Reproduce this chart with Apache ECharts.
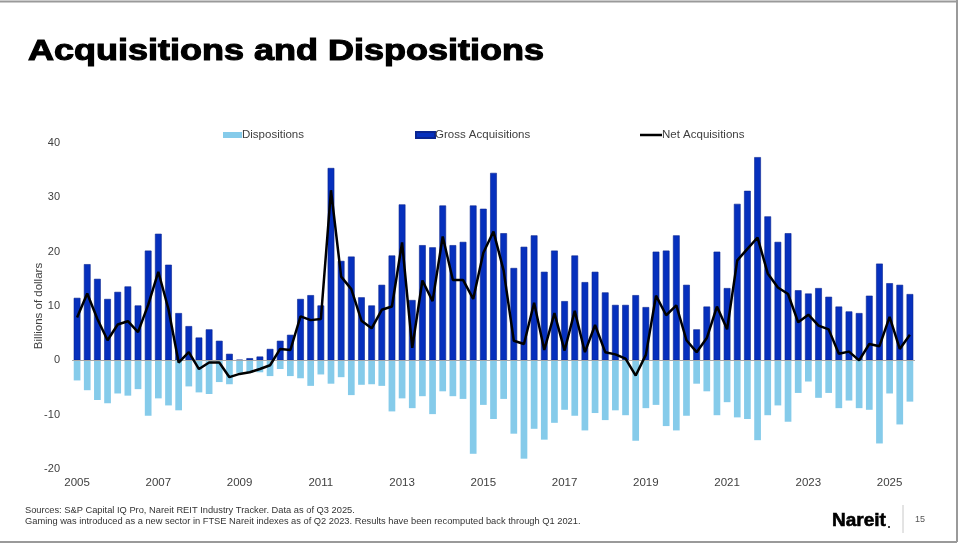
<!DOCTYPE html>
<html>
<head>
<meta charset="utf-8">
<title>Acquisitions and Dispositions</title>
<script src="https://cdn.jsdelivr.net/npm/echarts@6/dist/echarts.min.js"></script>
<style>
  html, body { margin: 0; padding: 0; background: #fff; }
  #chart { width: 960px; height: 544px; }
</style>
</head>
<body>
<div id="chart"></div>
<script>
// quarters 2005 Q1 .. 2025 Q3
var years = [2005, 2006, 2007, 2008, 2009, 2010, 2011, 2012, 2013, 2014, 2015,
             2016, 2017, 2018, 2019, 2020, 2021, 2022, 2023, 2024, 2025];
var quarters = ['Q1', 'Q2', 'Q3', 'Q4'];
var lastQuarters = 3; // data ends Q3 2025

// billions of dollars, one row per year
var grossAcquisitions = [
    11.5, 17.7, 15.0, 11.3,
    12.6, 13.6, 10.1, 20.2,
    23.3, 17.6, 8.7, 6.3,
    4.2, 5.7, 3.6, 1.2,
    0.1, 0.4, 0.7, 2.1,
    3.6, 4.7, 11.3, 12.0,
    10.1, 35.4, 18.3, 19.1,
    11.6, 10.1, 13.9, 19.3,
    28.7, 11.1, 21.2, 20.8,
    28.5, 21.2, 21.8, 28.5,
    27.9, 34.5, 23.4, 17.0,
    20.9, 23.0, 16.3, 20.2,
    10.9, 19.3, 14.4, 16.3,
    12.5, 10.2, 10.2, 12.0,
    9.8, 20.0, 20.2, 23.0,
    13.9, 5.7, 9.9, 20.0,
    13.3, 28.8, 31.2, 37.4,
    26.5, 21.8, 23.4, 12.9,
    12.3, 13.3, 11.7, 9.9,
    9.0, 8.7, 11.9, 17.8,
    14.2, 13.9, 12.2
];
var dispositions = [
    -3.7, -5.5, -7.3, -7.9,
    -6.1, -6.5, -5.3, -10.2,
    -7.0, -8.3, -9.2, -4.8,
    -5.9, -6.2, -4.0, -4.4,
    -2.3, -2.3, -2.2, -2.9,
    -1.6, -2.9, -3.3, -4.7,
    -2.6, -4.3, -3.1, -6.4,
    -4.5, -4.4, -4.7, -9.4,
    -7.0, -8.8, -6.6, -9.9,
    -5.7, -6.6, -7.1, -17.2,
    -8.2, -10.8, -7.1, -13.5,
    -18.1, -12.6, -14.6, -11.5,
    -9.1, -10.2, -12.9, -9.7,
    -11.0, -9.2, -10.1, -14.8,
    -8.8, -8.2, -12.1, -12.9,
    -10.2, -4.3, -5.7, -10.1,
    -7.7, -10.5, -10.8, -14.7,
    -10.1, -8.3, -11.3, -6.0,
    -3.9, -6.9, -6.0, -8.8,
    -7.4, -8.8, -9.1, -15.3,
    -6.1, -11.8, -7.6
];
var netAcquisitions = [
    7.9, 12.3, 7.6, 3.7,
    6.6, 7.2, 5.2, 10.2,
    16.3, 9.4, -0.4, 1.5,
    -1.6, -0.4, -0.4, -3.1,
    -2.5, -2.2, -1.6, -0.9,
    2.1, 1.9, 8.1, 7.4,
    7.6, 31.3, 15.4, 13.1,
    7.3, 5.9, 9.3, 9.9,
    21.7, 2.3, 14.7, 10.9,
    22.8, 14.8, 14.8, 11.3,
    19.8, 23.7, 16.5, 3.6,
    3.0, 10.6, 1.9, 8.7,
    1.8, 9.1, 1.5, 6.5,
    1.5, 1.1, 0.3, -2.8,
    1.0, 11.9, 8.3, 10.1,
    3.7, 1.5, 4.1, 9.9,
    5.7, 18.4, 20.5, 22.6,
    16.0, 13.4, 12.2, 7.0,
    8.4, 6.4, 5.7, 1.2,
    1.6, 0.0, 3.0, 2.6,
    8.0, 2.1, 4.7
];

var sourceNote = 'Sources: S&P Capital IQ Pro, Nareit REIT Industry Tracker. Data as of Q3 2025.';
var gamingNote = 'Gaming was introduced as a new sector in FTSE Nareit indexes as of Q2 2023. Results have been recomputed back through Q1 2021.';

var categories = [];
years.forEach(function(y, i) {
    var n = (i == years.length - 1) ? lastQuarters : 4;
    for (var q = 0; q < n; q++) categories.push(y + ' ' + quarters[q]);
});

var axisText = '#404040';
var font = 'Liberation Sans, Arial, sans-serif';

function legendAt(name, left, icon, w, h) {
    return {
        data: [{ name: name, icon: icon }],
        left: left, top: 124,
        itemWidth: w, itemHeight: h, itemGap: 0,
        textStyle: { fontFamily: font, fontSize: 11.5, color: axisText, padding: [0, 0, 0, -5] }
    };
}

var chart = echarts.init(document.getElementById('chart'));
var option = {
    backgroundColor: '#ffffff',
    animation: false,
    legend: [
        legendAt('Dispositions', 218, 'rect', 19, 6),
        legendAt('Gross Acquisitions', 410, 'rect', 19, 6),
        legendAt('Net Acquisitions', 635, 'rect', 22, 2.5)
    ],
    grid: { left: 72, right: 45, top: 143, bottom: 75 },
    xAxis: {
        type: 'category',
        data: categories,
        axisLine: { show: false },
        axisTick: { show: false },
        axisLabel: {
            interval: 7,
            margin: 8,
            fontFamily: font,
            fontSize: 11.5,
            color: axisText,
            formatter: function(v) { return v.split(' ')[0]; }
        }
    },
    yAxis: {
        type: 'value',
        min: -20, max: 40, interval: 10,
        name: 'Billions of dollars',
        nameLocation: 'middle',
        nameGap: 27,
        nameMoveOverlap: false,
        nameTextStyle: { fontFamily: font, fontSize: 11.5, color: axisText },
        axisLine: { show: false },
        axisTick: { show: false },
        splitLine: { show: false },
        axisLabel: { margin: 12, fontFamily: font, fontSize: 11, color: axisText }
    },
    series: [
        {
            name: 'Dispositions',
            type: 'bar',
            data: dispositions,
            barWidth: '66%',
            barGap: '-100%',
            itemStyle: { color: '#85cbea' },
            markLine: {
                silent: true,
                symbol: 'none',
                label: { show: false },
                lineStyle: { color: '#a6a6a6', width: 1, type: 'solid' },
                data: [{ yAxis: 0 }]
            }
        },
        {
            name: 'Gross Acquisitions',
            type: 'bar',
            data: grossAcquisitions,
            barWidth: '66%',
            barGap: '-100%',
            itemStyle: { color: '#0630bd', borderColor: '#0a2590', borderWidth: 0.6 }
        },
        {
            name: 'Net Acquisitions',
            type: 'line',
            data: netAcquisitions,
            showSymbol: false,
            z: 5,
            lineStyle: { color: '#000', width: 2.5 },
            itemStyle: { color: '#000' }
        }
    ],
    graphic: [
        // slide frame
        { type: 'line', shape: { x1: 0, y1: 1.5, x2: 957, y2: 1.5 }, style: { stroke: '#9a9a9a', lineWidth: 2 } },
        { type: 'line', shape: { x1: 957, y1: 0, x2: 957, y2: 542 }, style: { stroke: '#9a9a9a', lineWidth: 2 } },
        { type: 'line', shape: { x1: 0, y1: 542, x2: 957, y2: 542 }, style: { stroke: '#9a9a9a', lineWidth: 2 } },
        // title, widened to match the heavy slide font
        {
            type: 'text', x: 28, y: 52, scaleX: 1.22,
            style: {
                text: 'Acquisitions and Dispositions',
                font: 'bold 29.5px Liberation Sans, Arial, sans-serif',
                fill: '#000', stroke: '#000', lineWidth: 1.1,
                verticalAlign: 'middle'
            }
        },
        // footnotes
        { type: 'text', x: 25, y: 510, style: { text: sourceNote, font: '9.3px Liberation Sans, Arial, sans-serif', fill: '#333', verticalAlign: 'middle' } },
        { type: 'text', x: 25, y: 521, style: { text: gamingNote, font: '9.3px Liberation Sans, Arial, sans-serif', fill: '#333', verticalAlign: 'middle' } },
        // logo and page number
        {
            type: 'text', x: 832, y: 521,
            style: { text: 'Nareit', font: 'bold 19px Liberation Sans, Arial, sans-serif', fill: '#000', stroke: '#000', lineWidth: 0.6, verticalAlign: 'middle' }
        },
        { type: 'circle', shape: { cx: 889, cy: 527, r: 1 }, style: { fill: '#000' } },
        { type: 'line', shape: { x1: 903, y1: 505, x2: 903, y2: 533 }, style: { stroke: '#c8c8c8', lineWidth: 1 } },
        { type: 'text', x: 915, y: 520, style: { text: '15', font: '9px Liberation Sans, Arial, sans-serif', fill: '#555', verticalAlign: 'middle' } }
    ]
};
chart.setOption(option);
</script>
</body>
</html>
